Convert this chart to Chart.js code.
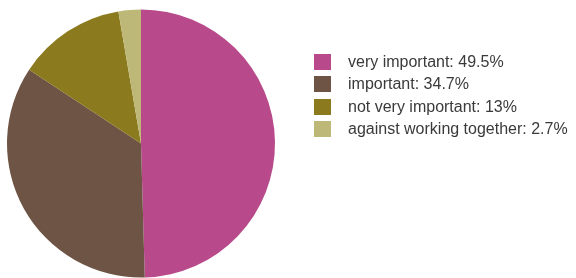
<!DOCTYPE html>
<html>
<head>
<meta charset="utf-8">
<script src="https://cdn.jsdelivr.net/npm/chart.js@4"></script>
<style>
html,body{margin:0;padding:0;background:#fff;}
#wrap{position:relative;width:576px;height:278px;}
#legend{position:absolute;left:314px;top:51px;font-family:"Liberation Sans",Arial,sans-serif;font-size:16px;color:#3a3a3a;}
.row{display:flex;align-items:center;height:22.3px;}
.box{width:17px;height:16px;margin-right:17px;}
</style>
</head>
<body>
<div id="wrap">
<canvas id="c" width="576" height="278"></canvas>
<div id="legend"></div>
</div>
<script>
const categories = ["very important", "important", "not very important", "against working together"];
const values = [49.5, 34.7, 13, 2.7];
const valueLabels = ["49.5%", "34.7%", "13%", "2.7%"];
const colors = ["#B84A8C", "#6E5444", "#8C7A1E", "#BDB878"];

new Chart(document.getElementById('c'), {
  type: 'pie',
  data: {
    labels: categories,
    datasets: [{ data: values, backgroundColor: colors, borderWidth: 0 }]
  },
  options: {
    responsive: false,
    animation: false,
    layout: { padding: { left: 7, top: 9, right: 301, bottom: 0 } },
    plugins: { legend: { display: false }, tooltip: { enabled: false } }
  }
});

const lg = document.getElementById('legend');
categories.forEach((c, i) => {
  const r = document.createElement('div');
  r.className = 'row';
  const b = document.createElement('div');
  b.className = 'box';
  b.style.background = colors[i];
  const t = document.createElement('span');
  t.textContent = c + ': ' + valueLabels[i];
  r.appendChild(b); r.appendChild(t);
  lg.appendChild(r);
});
</script>
</body>
</html>
